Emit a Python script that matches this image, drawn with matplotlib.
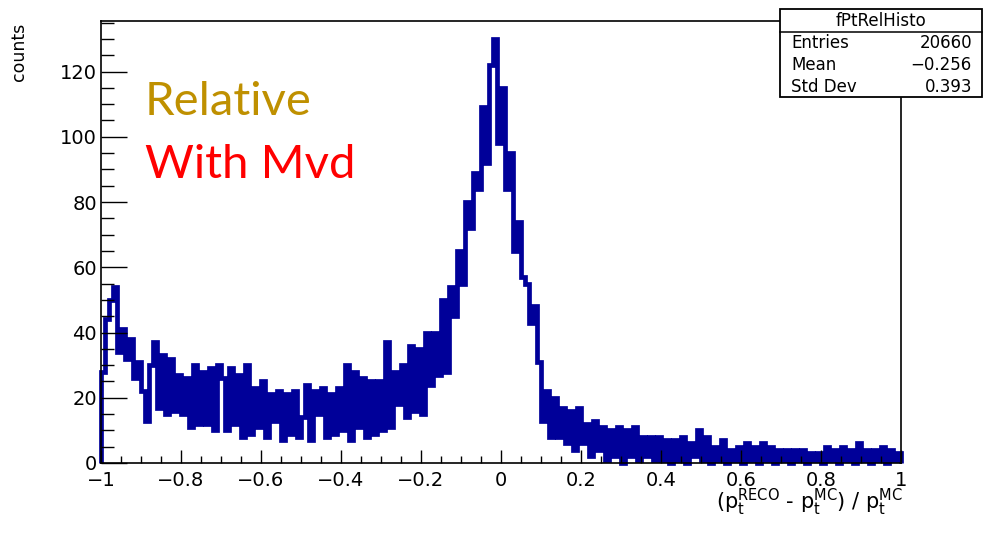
import matplotlib
matplotlib.use('Agg')
import matplotlib.pyplot as plt
import numpy as np
from matplotlib.patches import Rectangle

# histogram fPtRelHisto, 200 bins of 0.01 from -1 to 1
x_lo, x_hi = -1.0, 1.0
counts = [
    28, 44, 50, 54, 34, 41, 32, 38, 26, 31,
    22, 13, 30, 37, 17, 33, 15, 32, 16, 27,
    15, 26, 11, 30, 12, 28, 12, 29, 10, 30,
    26, 10, 29, 12, 27, 8, 30, 9, 23, 11,
    25, 8, 21, 13, 22, 7, 21, 9, 22, 8,
    14, 24, 7, 22, 15, 23, 8, 21, 9, 23,
    10, 30, 7, 28, 11, 26, 8, 25, 9, 25,
    10, 37, 11, 28, 18, 30, 14, 36, 16, 35,
    15, 40, 24, 40, 27, 50, 28, 54, 45, 65,
    55, 80, 72, 89, 84, 109, 92, 122, 130, 98,
    115, 84, 95, 65, 74, 57, 55, 43, 48, 31,
    13, 22, 8, 20, 8, 17, 6, 16, 4, 17,
    6, 12, 2, 13, 4, 11, 1, 10, 2, 11,
    0, 10, 2, 11, 1, 8, 2, 8, 1, 8,
    1, 7, 0, 7, 1, 8, 0, 6, 2, 10,
    1, 8, 0, 5, 1, 7, 0, 4, 1, 5,
    0, 6, 1, 5, 0, 6, 1, 5, 0, 4,
    1, 4, 0, 4, 1, 4, 0, 3, 1, 3,
    0, 5, 1, 4, 0, 5, 1, 4, 0, 6,
    1, 4, 0, 4, 1, 5, 0, 4, 1, 3,
]
xticks = [-1, -0.8, -0.6, -0.4, -0.2, 0, 0.2, 0.4, 0.6, 0.8, 1]
xtick_labels = ['\u22121', '\u22120.8', '\u22120.6', '\u22120.4', '\u22120.2',
                '0', '0.2', '0.4', '0.6', '0.8', '1']
yticks = [0, 20, 40, 60, 80, 100, 120]

stat_title = 'fPtRelHisto'
stat_names = ['Entries', 'Mean', 'Std Dev']
stat_values = ['20660', '\u22120.256', '0.393']

W, H = 995, 533
plt.rcParams['font.family'] = ['DejaVu Sans']
plt.rcParams['mathtext.fontset'] = 'custom'
plt.rcParams['mathtext.rm'] = 'DejaVu Sans'

fig = plt.figure(figsize=(W / 100, H / 100), dpi=100)
ax = fig.add_axes([101 / W, 1 - 463 / H, 800 / W, 442 / H])

edges = np.linspace(x_lo, x_hi, len(counts) + 1)
ax.stairs(counts, edges, baseline=0, color='#000099', lw=3.4, clip_on=False, zorder=1)

ax.set_xlim(x_lo, x_hi)
ax.set_ylim(0, 135.5)
ax.set_xticks(xticks)
ax.set_xticklabels(xtick_labels)
ax.set_xticks(np.arange(-1, 1.001, 0.05), minor=True)
ax.set_yticks(yticks)
ax.set_yticks(np.arange(0, 136, 5), minor=True)
ax.tick_params(axis='x', which='major', direction='in', length=9.5, width=1, labelsize=14, pad=6)
ax.tick_params(axis='x', which='minor', direction='in', length=5, width=1)
ax.tick_params(axis='y', which='major', direction='in', length=18.5, width=1, labelsize=14, pad=3)
ax.tick_params(axis='y', which='minor', direction='in', length=9, width=1)
for s in ax.spines.values():
    s.set_linewidth(1.2)

fig.text(19 / W, 1 - 23 / H, 'counts', rotation=90, ha='center', va='top', fontsize=12.5)
fig.text(903 / W, 1 - 509 / H,
         r'(p$_\mathregular{t}^\mathregular{RECO}$ - p$_\mathregular{t}^\mathregular{MC}$) / p$_\mathregular{t}^\mathregular{MC}$',
         ha='right', va='baseline', fontsize=15)

fig.text(145 / W, 1 - 115 / H, 'Relative', color='#BF9000', family='Lato',
         fontsize=34, ha='left', va='baseline')
fig.text(145 / W, 1 - 178 / H, 'With Mvd', color='#FF0000', family='Lato',
         fontsize=34, ha='left', va='baseline')

# stats box
bx0, bx1, by0, by1, bdiv = 780, 982, 9, 97, 32
fig.add_artist(Rectangle((bx0 / W, 1 - by1 / H), (bx1 - bx0) / W, (by1 - by0) / H,
                         transform=fig.transFigure, facecolor='white', edgecolor='black',
                         lw=1.3, zorder=5))
fig.add_artist(plt.Line2D([bx0 / W, bx1 / W], [1 - bdiv / H, 1 - bdiv / H],
                          transform=fig.transFigure, color='black', lw=1.1, zorder=6))
fig.text((bx0 + bx1) / 2 / W, 1 - 21 / H, stat_title, ha='center', va='center',
         fontsize=12, zorder=7)
for i, (nm, vl) in enumerate(zip(stat_names, stat_values)):
    yy = 1 - (43 + 22 * i) / H
    fig.text(791 / W, yy, nm, ha='left', va='center', fontsize=12, zorder=7)
    fig.text(972 / W, yy, vl, ha='right', va='center', fontsize=12, zorder=7)

fig.savefig('out.png', dpi=100)
